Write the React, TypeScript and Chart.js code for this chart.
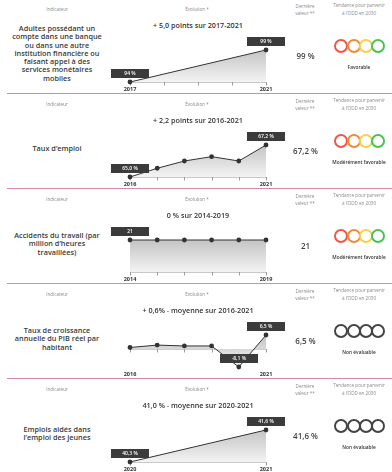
import React, { useEffect, useRef } from 'react';
import { Chart, registerables } from 'chart.js';

Chart.register(...registerables);

const FONT = '"Open Sans", "Noto Sans", "DejaVu Sans", sans-serif';

// ---- data ----
const indicatorLines: string[][] = [
  ['Adultes possédant un', 'compte dans une banque', 'ou dans une autre', 'institution financière ou', 'faisant appel à des', 'services monétaires', 'mobiles'],
  ['Taux d’emploi'],
  ['Accidents du travail (par', 'million d’heures', 'travaillées)'],
  ['Taux de croissance', 'annuelle du PIB réel par', 'habitant'],
  ['Emplois aidés dans', 'l’emploi des jeunes'],
];

const evolutionTitles = [
  '+ 5,0 points sur 2017-2021',
  '+ 2,2 points sur 2016-2021',
  '0 % sur 2014-2019',
  '+ 0,6% - moyenne sur 2016-2021',
  '41,0 % - moyenne sur 2020-2021',
];

const years1 = ['2017', '2018', '2019', '2020', '2021'];
const values1: (number | null)[] = [94, null, null, null, 99];

const years2 = ['2016', '2017', '2018', '2019', '2020', '2021'];
const values2: (number | null)[] = [65.0, 65.6, 66.1, 66.4, 66.1, 67.2];

const years3 = ['2014', '2015', '2016', '2017', '2018', '2019'];
const values3: (number | null)[] = [21, 21, 21, 21, 21, 21];

const years4 = ['2016', '2017', '2018', '2019', '2020', '2021'];
const values4: (number | null)[] = [0.8, 1.9, 1.5, 1.5, -8.1, 6.5];

const years5 = ['2020', '2021'];
const values5: (number | null)[] = [40.3, 41.6];

const decimals = [0, 1, 0, 1, 1];
const units = [' %', ' %', '', ' %', ' %'];

const statuses = ['Favorable', 'Modérément favorable', 'Modérément favorable', 'Non évaluable', 'Non évaluable'];
const evaluated = [true, true, true, false, false];

const seriesYears = [years1, years2, years3, years4, years5];
const seriesValues = [values1, values2, values3, values4, values5];

// ---- layout ----
const rowTops = [0, 95, 190, 285, 380];
const circleColors = ['#ef5747', '#f18a3a', '#f5d44b', '#4cc15b'];

const fmt = (v: number, d: number, u: string) => v.toFixed(d).replace('.', ',') + u;

function Txt({ x, y, children, style }: any) {
  return (
    <div
      style={{
        position: 'absolute',
        left: x,
        top: y,
        transform: 'translate(-50%, -50%)',
        whiteSpace: 'nowrap',
        textAlign: 'center',
        fontFamily: FONT,
        ...style,
      }}
    >
      {children}
    </div>
  );
}

function MiniChart({ top, years, values, dec, unit }: any) {
  const ref = useRef<HTMLCanvasElement>(null);
  useEffect(() => {
    const canvas = ref.current!;
    const nums = values.filter((v: any) => v !== null) as number[];
    const vMin = Math.min(...nums);
    const vMax = Math.max(...nums);
    const yMin = vMin === vMax ? 0 : vMin;
    const yMax = vMax;
    const labelIdx = Array.from(new Set([values.indexOf(vMin), values.indexOf(vMax)]));

    const deco = {
      id: 'deco',
      beforeDatasetsDraw(chart: any) {
        const { ctx, chartArea, scales } = chart;
        const x = scales.x;
        const y = scales.y;
        const base = Math.round(y.getPixelForValue(Math.max(yMin, Math.min(yMax, 0))));
        ctx.save();
        ctx.lineWidth = 1;
        ctx.strokeStyle = '#c8c8c8';
        ctx.beginPath();
        ctx.moveTo(chartArea.left, base + 0.5);
        ctx.lineTo(chartArea.right, base + 0.5);
        ctx.stroke();
        ctx.strokeStyle = '#9c9c9c';
        years.forEach((_: any, i: number) => {
          const px = Math.round(x.getPixelForValue(i)) + 0.5;
          ctx.beginPath();
          ctx.moveTo(px, base);
          ctx.lineTo(px, base + 3.5);
          ctx.stroke();
        });
        ctx.restore();
      },
      afterDatasetsDraw(chart: any) {
        const { ctx, chartArea, scales } = chart;
        const x = scales.x;
        const y = scales.y;
        ctx.save();
        // year labels (first & last)
        ctx.font = `700 5.5px ${FONT}`;
        ctx.fillStyle = '#333';
        ctx.textAlign = 'center';
        ctx.textBaseline = 'middle';
        [0, years.length - 1].forEach((i) => {
          ctx.fillText(years[i], x.getPixelForValue(i), chartArea.bottom + 7);
        });
        // value boxes at min & max
        labelIdx.forEach((i) => {
          const v = values[i] as number;
          const px = x.getPixelForValue(i);
          const py = y.getPixelForValue(v);
          const w = 38;
          const h = 9;
          ctx.fillStyle = '#3b3b3b';
          ctx.fillRect(Math.round(px - w / 2), Math.round(py - 4 - h), w, h);
          ctx.fillStyle = '#ffffff';
          ctx.font = `600 5px ${FONT}`;
          ctx.fillText(fmt(v, dec, unit), px, py - 4 - h / 2 + 0.5);
        });
        ctx.restore();
      },
    };

    const chart = new Chart(canvas, {
      type: 'line',
      data: {
        labels: years,
        datasets: [
          {
            data: values,
            borderColor: '#333333',
            borderWidth: 1,
            pointRadius: 2.4,
            pointBackgroundColor: '#333333',
            pointBorderWidth: 0,
            tension: 0,
            spanGaps: true,
            clip: false as any,
            fill: 'origin',
            backgroundColor: (c: any) => {
              const ch = c.chart;
              const area = ch.chartArea;
              if (!area) return '#dddddd';
              const g = ch.ctx.createLinearGradient(0, area.top, 0, area.bottom);
              g.addColorStop(0, '#c4c4c4');
              g.addColorStop(1, '#f4f4f4');
              return g;
            },
          },
        ],
      },
      options: {
        animation: false,
        responsive: false,
        events: [],
        layout: { padding: { left: 30, right: 34, top: 50, bottom: 13 } },
        scales: {
          x: { display: false, offset: false },
          y: { display: false, min: yMin, max: yMax },
        },
        plugins: { legend: { display: false }, tooltip: { enabled: false } },
      },
      plugins: [deco],
    });
    return () => chart.destroy();
  }, []);
  return (
    <canvas
      ref={ref}
      width={200}
      height={95}
      style={{ position: 'absolute', left: 100, top, width: 200, height: 95 }}
    />
  );
}

export default function App() {
  const headerStyle = { fontSize: '4.6px', color: '#8a8a8a', lineHeight: '7.6px' };
  return (
    <div
      style={{
        position: 'absolute',
        left: 0,
        top: 0,
        width: 392,
        height: 472,
        background: '#ffffff',
        overflow: 'hidden',
      }}
    >
      {rowTops.map((T, i) => {
        const vals = seriesValues[i];
        const last = vals[vals.length - 1] as number;
        return (
          <React.Fragment key={i}>
            {i > 0 && (
              <div style={{ position: 'absolute', left: 7, right: 0, top: T - 2, height: 1, background: '#d98aa0' }} />
            )}
            <Txt x={57} y={T + 10} style={headerStyle}>Indicateur</Txt>
            <Txt x={197} y={T + 10} style={headerStyle}>Évolution *</Txt>
            <Txt x={305} y={T + 10.5} style={headerStyle}>Dernière<br />valeur **</Txt>
            <Txt x={359} y={T + 10} style={headerStyle}>Tendance pour parvenir<br />à l’ODD en 2030</Txt>

            <Txt x={57} y={T + 53} style={{ fontSize: '7.3px', fontWeight: 600, color: '#3a3a3a', lineHeight: '8.25px' }}>
              {indicatorLines[i].map((l, k) => (
                <div key={k}>{l}</div>
              ))}
            </Txt>

            <Txt x={198} y={T + 25} style={{ fontSize: '7.2px', fontWeight: 600, color: '#333' }}>
              {evolutionTitles[i]}
            </Txt>

            <MiniChart top={T} years={seriesYears[i]} values={vals} dec={decimals[i]} unit={units[i]} />

            <Txt x={305.5} y={T + 54.5} style={{ fontSize: '8px', fontWeight: 600, color: '#444' }}>
              {fmt(last, decimals[i], units[i])}
            </Txt>

            {circleColors.map((c, k) => (
              <div
                key={k}
                style={{
                  position: 'absolute',
                  left: 341.2 + k * 12.4 - 7,
                  top: T + 45.5 - 7,
                  width: 14,
                  height: 14,
                  boxSizing: 'border-box',
                  borderRadius: '50%',
                  border: `2px solid ${evaluated[i] ? c : '#444'}`,
                }}
              />
            ))}

            <Txt x={359} y={T + 66.5} style={{ fontSize: '4.8px', fontWeight: 600, color: '#333' }}>
              {statuses[i]}
            </Txt>
          </React.Fragment>
        );
      })}
    </div>
  );
}
